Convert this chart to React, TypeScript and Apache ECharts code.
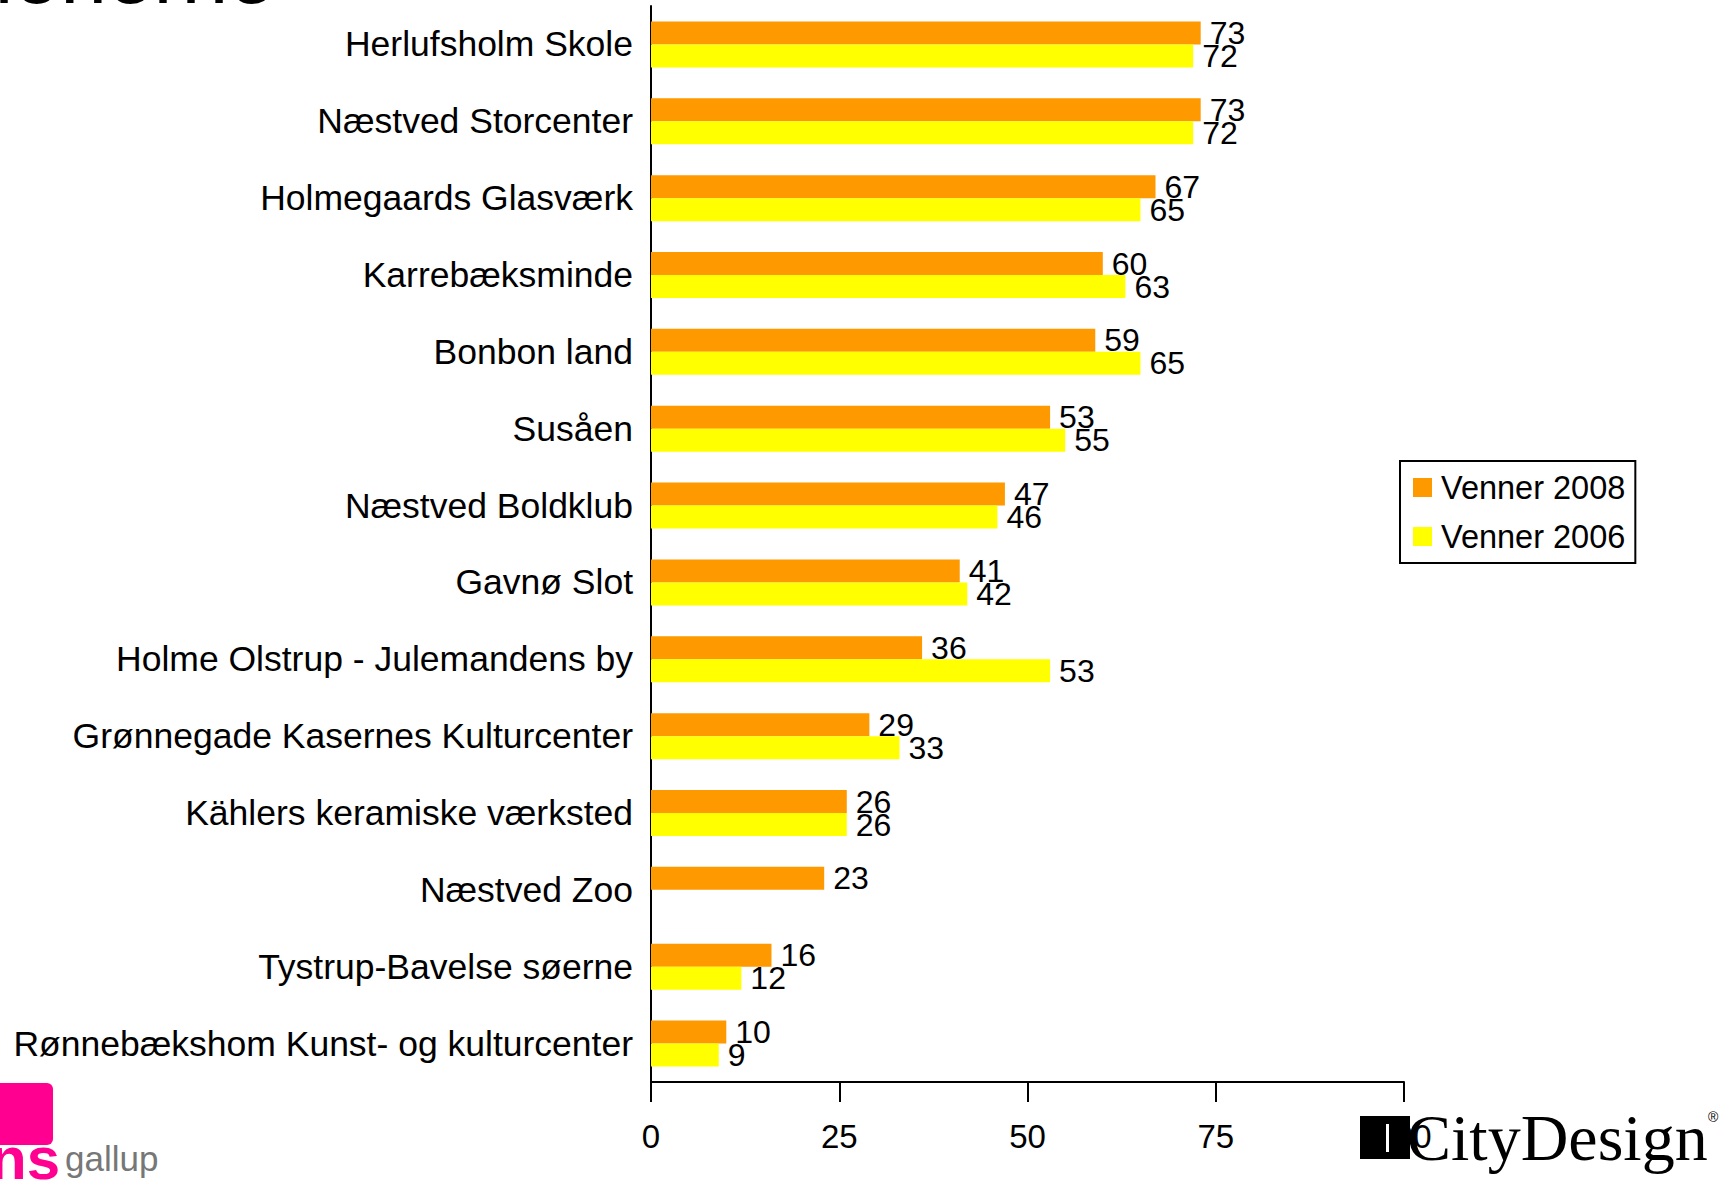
import React, { useEffect, useRef } from "react";
import * as echarts from "echarts";

const categories = [
  "Herlufsholm Skole",
  "Næstved Storcenter",
  "Holmegaards Glasværk",
  "Karrebæksminde",
  "Bonbon land",
  "Susåen",
  "Næstved Boldklub",
  "Gavnø Slot",
  "Holme Olstrup - Julemandens by",
  "Grønnegade Kasernes Kulturcenter",
  "Kählers keramiske værksted",
  "Næstved Zoo",
  "Tystrup-Bavelse søerne",
  "Rønnebækshom Kunst- og kulturcenter",
];
const venner2008 = [73, 73, 67, 60, 59, 53, 47, 41, 36, 29, 26, 23, 16, 10];
const venner2006: (number | null)[] = [72, 72, 65, 63, 65, 55, 46, 42, 53, 33, 26, null, 12, 9];
const seriesNames = ["Venner 2008", "Venner 2006"];
const xTicks = { min: 0, max: 100, interval: 25 };

export default function App() {
  const ref = useRef<HTMLDivElement>(null);
  useEffect(() => {
    if (!ref.current) return;
    const chart = echarts.init(ref.current, null, { renderer: "svg" });
    const font = "'Liberation Sans', Arial, Helvetica, sans-serif";
    const labelStyle = {
      show: true,
      position: "right" as const,
      distance: 9,
      fontSize: 32,
      color: "#000",
      fontFamily: font,
    };
    chart.setOption({
      animation: false,
      backgroundColor: "#fff",
      textStyle: { fontFamily: font },
      grid: { left: 651, right: 322, top: 6, bottom: 98, containLabel: false },
      legend: {
        orient: "vertical",
        left: 1400,
        top: 461,
        data: seriesNames,
        icon: "rect",
        itemWidth: 19,
        itemHeight: 19,
        itemGap: 16,
        padding: [10, 10, 10, 13],
        borderColor: "#000",
        borderWidth: 2,
        textStyle: { fontSize: 32.5, color: "#000", fontFamily: font, padding: [0, 0, 0, 4] },
      },
      xAxis: {
        type: "value",
        min: xTicks.min,
        max: xTicks.max,
        interval: xTicks.interval,
        axisLine: { show: true, lineStyle: { color: "#000", width: 2 } },
        axisTick: { show: true, length: 20, lineStyle: { color: "#000", width: 2 } },
        splitLine: { show: false },
        axisLabel: { fontSize: 33, color: "#000", margin: 38, fontFamily: font },
      },
      yAxis: {
        type: "category",
        inverse: true,
        data: categories,
        axisLine: { show: true, lineStyle: { color: "#000", width: 2 } },
        axisTick: { show: false },
        axisLabel: { fontSize: 35.5, color: "#000", margin: 18, fontFamily: font },
      },
      series: [
        {
          name: seriesNames[0],
          type: "bar",
          data: venner2008,
          barWidth: 23,
          barGap: "0%",
          itemStyle: { color: "#FF9900" },
          label: labelStyle,
        },
        {
          name: seriesNames[1],
          type: "bar",
          data: venner2006,
          barWidth: 23,
          barGap: "0%",
          itemStyle: { color: "#FFFF00" },
          label: labelStyle,
        },
      ],
      graphic: [
        {
          type: "text",
          right: 1726 - 275,
          top: -68,
          style: { text: "Attraktionerne", fontSize: 84, fill: "#000", fontFamily: font },
        },
        {
          type: "rect",
          shape: { x: -8, y: 1083, width: 61, height: 62, r: 6 },
          style: { fill: "#FF0090" },
        },
        {
          type: "text",
          x: -10,
          y: 1128,
          style: { text: "ns", fontSize: 60, fontWeight: "bold", fill: "#FF0090", fontFamily: font },
        },
        {
          type: "text",
          x: 65,
          y: 1141,
          style: { text: "gallup", fontSize: 35, fill: "#777", fontFamily: "'Liberation Sans Narrow', 'Liberation Sans', sans-serif" },
        },
        {
          type: "rect",
          z: 100,
          shape: { x: 1360, y: 1116, width: 50, height: 43 },
          style: { fill: "#000" },
        },
        {
          type: "rect",
          z: 101,
          shape: { x: 1386, y: 1124, width: 3, height: 28 },
          style: { fill: "#fff" },
        },
        {
          type: "text",
          z: 100,
          x: 1407,
          y: 1104,
          style: { text: "CityDesign", fontSize: 66, fill: "#000", fontFamily: "'Liberation Serif', 'DejaVu Serif', serif" },
        },
        {
          type: "text",
          z: 100,
          x: 1708,
          y: 1110,
          style: { text: "®", fontSize: 14, fill: "#000", fontFamily: font },
        },
      ],
    });
    return () => chart.dispose();
  }, []);
  return (
    <div
      ref={ref}
      style={{ position: "fixed", left: 0, top: 0, width: 1726, height: 1180, background: "#fff" }}
    />
  );
}
